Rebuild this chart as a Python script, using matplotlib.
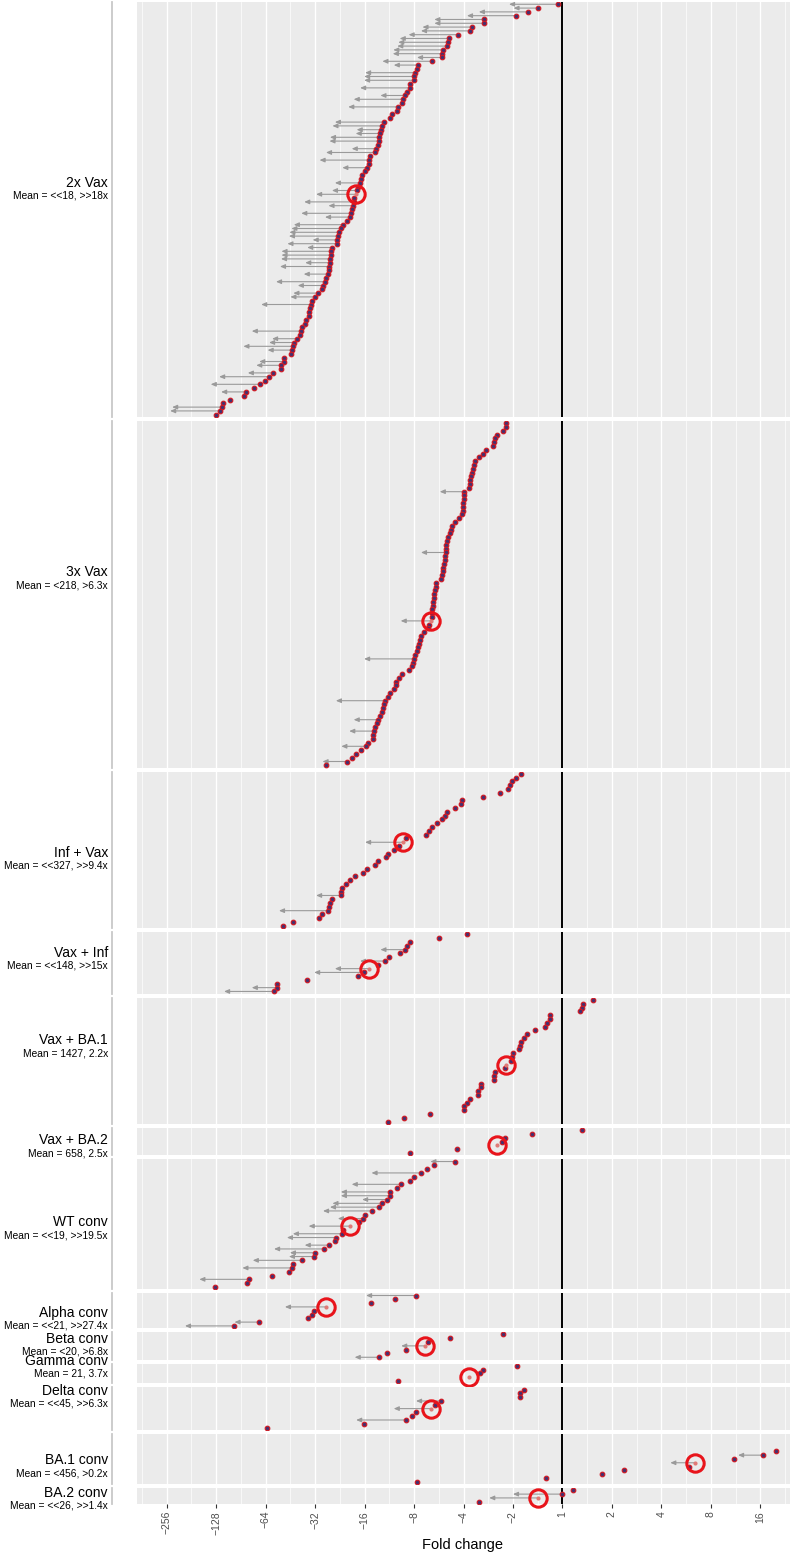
import numpy as np
import matplotlib.pyplot as plt
from matplotlib.lines import Line2D

plt.rcParams['font.family'] = ['Liberation Sans', 'DejaVu Sans']

# signed log2 fold change per sample, in plotted order (top to bottom), mean row not included
# censor codes: 0 = exact, 1 = "<" (half step arrow), 2 = "<<" (full step arrow)
vax2 = [-0.08, -0.49, -0.69, -0.93, -1.59, -1.59, -1.83, -1.86, -2.11, -2.29,
        -2.32, -2.34, -2.42, -2.43, -2.44, -2.64, -2.91, -2.93, -2.99, -3.01,
        -3.01, -3.08, -3.09, -3.15, -3.18, -3.22, -3.24, -3.33, -3.35, -3.44,
        -3.49, -3.60, -3.65, -3.66, -3.68, -3.70, -3.71, -3.72, -3.76, -3.78,
        -3.89, -3.91, -3.92, -3.95, -3.99, -4.06, -4.08, -4.10, -4.14, -4.16,
        -4.21, -4.22, -4.23, -4.26, -4.28, -4.30, -4.35, -4.43, -4.48,
        -4.52, -4.53, -4.55, -4.56, -4.66, -4.68, -4.68, -4.69, -4.70, -4.71,
        -4.72, -4.73, -4.77, -4.79, -4.85, -4.87, -4.94, -5.00, -5.07, -5.09,
        -5.10, -5.12, -5.13, -5.19, -5.20, -5.26, -5.28, -5.31, -5.37, -5.43,
        -5.45, -5.46, -5.49, -5.62, -5.63, -5.69, -5.69, -5.86, -5.94, -6.01,
        -6.11, -6.23, -6.40, -6.44, -6.73, -6.86, -6.89, -6.93, -7.01]
vax2_cens = [2, 1, 2, 2, 2, 2, 2, 2, 2, 2,
             2, 2, 2, 2, 1, 2, 1, 0, 2, 2,
             2, 0, 2, 0, 1, 2, 0, 2, 0, 0,
             0, 2, 2, 1, 1, 2, 2, 0, 1, 2,
             0, 2, 0, 1, 0, 0, 0, 1, 0, 1,
             0, 2, 1, 0, 2, 1, 0, 2, 2,
             2, 2, 1, 2, 1, 2, 2, 2, 1, 2,
             0, 1, 0, 2, 1, 0, 1, 1, 0, 2,
             0, 0, 0, 0, 0, 0, 2, 0, 1, 1,
             2, 1, 0, 0, 1, 1, 0, 1, 2, 0,
             2, 0, 1, 0, 0, 0, 2, 2, 0]

vax3 = [-1.14, -1.15, -1.21, -1.33, -1.37, -1.39, -1.40, -1.54, -1.60, -1.69,
        -1.76, -1.78, -1.81, -1.82, -1.84, -1.86, -1.86, -1.88, -1.98, -2.00,
        -2.00, -2.01, -2.01, -2.02, -2.03, -2.09, -2.18, -2.23, -2.26, -2.28,
        -2.32, -2.33, -2.35, -2.36, -2.36, -2.37, -2.38, -2.39, -2.41, -2.42,
        -2.44, -2.46, -2.55, -2.55, -2.57, -2.59, -2.59, -2.61, -2.61, -2.63,
        -2.63, -2.64, -2.69, -2.72, -2.80, -2.85, -2.88, -2.90, -2.92, -2.95,
        -2.98, -3.01, -3.03, -3.05, -3.11, -3.24, -3.30, -3.36, -3.37, -3.41,
        -3.49, -3.52, -3.58, -3.60, -3.62, -3.64, -3.68, -3.72, -3.75, -3.78,
        -3.81, -3.82, -3.83, -3.93, -3.97, -4.08, -4.18, -4.26, -4.35, -4.77]
vax3_cens = [0, 0, 0, 0, 0, 0, 0, 0, 0, 0,
             0, 0, 0, 0, 0, 0, 0, 0, 1, 0,
             0, 0, 0, 0, 0, 0, 0, 0, 0, 0,
             0, 0, 0, 0, 1, 0, 0, 0, 0, 0,
             0, 0, 0, 0, 0, 0, 0, 0, 0, 0,
             0, 0, 0, 0, 0, 0, 0, 0, 0, 0,
             0, 2, 0, 0, 0, 0, 0, 0, 0, 0,
             0, 0, 2, 0, 0, 0, 0, 1, 0, 0,
             1, 0, 0, 0, 1, 0, 0, 0, 1, 0]

inf_vax = [-0.83, -0.93, -1.01, -1.07, -1.10, -1.27, -1.60, -2.04, -2.05, -2.18,
           -2.34, -2.38, -2.43, -2.53, -2.63, -2.69, -2.76, -3.16, -3.31, -3.40,
           -3.52, -3.56, -3.72, -3.78, -3.95, -4.03, -4.20, -4.29, -4.37, -4.45,
           -4.48, -4.48, -4.66, -4.69, -4.72, -4.73, -4.87, -4.93, -5.44, -5.64]
inf_vax_cens = [0] * 31 + [1, 0, 0, 0, 2, 0, 0, 0, 0]

vax_inf = [-1.92, -2.49, -3.09, -3.14, -3.18, -3.28, -3.50, -3.59, -3.73,
           -4.02, -4.14, -5.17, -5.77, -5.78, -5.84]
vax_inf_cens = [0, 0, 0, 0, 1, 0, 0, 1, 0, 2, 0, 0, 0, 1, 2]

vax_ba1 = [0.61, 0.41, 0.39, 0.36, -0.25, -0.26, -0.32, -0.36, -0.55, -0.72,
           -0.78, -0.84, -0.85, -0.88, -1.00, -1.02, -1.03, -1.16, -1.37, -1.39,
           -1.39, -1.64, -1.65, -1.70, -1.71, -1.87, -1.93, -1.98, -1.99, -2.67,
           -3.20, -3.53]
vax_ba1_cens = [0] * 32

vax_ba2 = [0.39, -0.61, -1.16, -1.23, -2.14, -3.09]
vax_ba2_cens = [0] * 6

wt_conv = [-2.17, -2.59, -2.74, -2.86, -3.01, -3.09, -3.26, -3.34, -3.48, -3.48,
           -3.55, -3.65, -3.70, -3.84, -3.99, -4.04, -4.11, -4.43, -4.45, -4.57,
           -4.60, -4.71, -4.83, -5.01, -5.03, -5.26, -5.44, -5.47, -5.52, -5.87,
           -6.34, -6.37, -7.02]
wt_conv_cens = [1, 0, 0, 2, 0, 0, 2, 0, 2, 2, 1, 2, 2, 2, 0, 1, 0,
                0, 2, 2, 0, 1, 2, 1, 1, 2, 0, 2, 0, 0, 2, 0, 0]

alpha_conv = [-2.97, -3.39, -3.86, -5.03, -5.07, -5.14, -6.13, -6.63]
alpha_conv_cens = [2, 0, 0, 0, 0, 0, 1, 2]

beta_conv = [-1.20, -2.28, -2.71, -3.17, -3.55, -3.70]
beta_conv_cens = [0, 0, 0, 0, 0, 1]

gamma_conv = [-0.92, -1.60, -1.67, -3.32]
gamma_conv_cens = [0, 0, 0, 0]

delta_conv = [-0.77, -0.85, -0.85, -2.46, -2.58, -2.96, -3.04, -3.17, -4.01, -5.97]
delta_conv_cens = [0, 0, 0, 1, 0, 0, 0, 2, 0, 0]

# first four rows are off the right of the axis
ba1_conv = [np.nan, np.nan, np.nan, np.nan, 4.32, 4.05, 3.47, 2.55, 1.25, 0.79, -0.34, -2.93]
ba1_conv_cens = [0, 0, 0, 0, 0, 1, 0, 0, 0, 0, 0, 0]

ba2_conv = [0.22, 0.00, -1.69]
ba2_conv_cens = [0, 2, 0]

groups = ["2x Vax", "3x Vax", "Inf + Vax", "Vax + Inf", "Vax + BA.1", "Vax + BA.2",
          "WT conv", "Alpha conv", "Beta conv", "Gamma conv", "Delta conv",
          "BA.1 conv", "BA.2 conv"]
mean_text = ["Mean = <<18, >>18x", "Mean = <218, >6.3x", "Mean = <<327, >>9.4x",
             "Mean = <<148, >>15x", "Mean = 1427, 2.2x", "Mean = 658, 2.5x",
             "Mean = <<19, >>19.5x", "Mean = <<21, >>27.4x", "Mean = <20, >6.8x",
             "Mean = 21, 3.7x", "Mean = <<45, >>6.3x", "Mean = <456, >0.2x",
             "Mean = <<26, >>1.4x"]
mean_log2 = [-4.17, -2.65, -3.23, -3.91, -1.14, -1.32, -4.29, -4.78, -2.77, -1.89, -2.66, 2.67, -0.49]
mean_lo = [-4.98, -3.27, -3.99, -4.60, np.nan, np.nan, -5.13, -5.61, -3.26, np.nan, -3.41, 2.18, -1.48]
mean_row = [50, 52, 18, 9, 17, 4, 17, 3, 3, 3, 5, 7, 2]

values = [vax2, vax3, inf_vax, vax_inf, vax_ba1, vax_ba2, wt_conv, alpha_conv,
          beta_conv, gamma_conv, delta_conv, ba1_conv, ba2_conv]
censor = [vax2_cens, vax3_cens, inf_vax_cens, vax_inf_cens, vax_ba1_cens, vax_ba2_cens,
          wt_conv_cens, alpha_conv_cens, beta_conv_cens, gamma_conv_cens,
          delta_conv_cens, ba1_conv_cens, ba2_conv_cens]

# label positions (pixel rows of the group name)
label_y_px = [183, 572, 853, 953, 1040, 1140, 1222, 1313, 1339, 1361, 1391, 1460, 1493]

W, H = 790, 1557
fig = plt.figure(figsize=(W / 100, H / 100), dpi=100)
nrows = [len(v) + 1 for v in values]
avg_h = (1502 - 12 * 4) / 13
gs = fig.add_gridspec(len(groups), 1, height_ratios=[n + 0.2 for n in nrows],
                      hspace=4 / avg_h, left=137 / W, right=1.0,
                      top=1 - 2 / H, bottom=1 - 1504 / H)

arrow_kw = dict(arrowstyle="-|>,head_length=0.3,head_width=0.13", color="#9a9a9a",
                lw=0.8, shrinkA=0, shrinkB=0)
ticks = np.arange(-8, 5)
tick_labels = [("\u2212%d" % 2 ** (-t)) if t < 0 else "%d" % 2 ** t for t in ticks]

for i, name in enumerate(groups):
    ax = fig.add_subplot(gs[i])
    ax.set_facecolor("#EBEBEB")
    n = nrows[i]
    rows = [r for r in range(n) if r != mean_row[i]]
    vals = np.array(values[i], dtype=float)
    cens = np.array(censor[i])

    for v, c, r in zip(vals, cens, rows):
        if c > 0 and not np.isnan(v):
            ax.annotate("", xy=(v - 0.5 * c, r), xytext=(v, r), arrowprops=arrow_kw, zorder=3)
    if not np.isnan(mean_lo[i]):
        ax.annotate("", xy=(mean_lo[i], mean_row[i]), xytext=(mean_log2[i], mean_row[i]),
                    arrowprops=arrow_kw, zorder=3)

    ax.axvline(0, color="black", lw=1.4, zorder=2)
    ax.plot(vals, rows, "o", ls="none", ms=3.3, mfc="#46306e", mec="#d01a24", mew=0.85, zorder=4)
    ax.plot(mean_log2[i], mean_row[i], "o", ms=3.0, mfc="#e07a76", mec="none", zorder=5,
            clip_on=False)
    ax.plot(mean_log2[i], mean_row[i], "o", ms=12.5, mfc="none", mec="#e8141b", mew=2.2, zorder=6,
            clip_on=False)

    ax.set_xlim(-8.6, 4.6)
    ax.set_ylim(n - 1 + 0.6, -0.6)
    ax.set_xticks(ticks)
    ax.set_xticks(np.arange(-8.5, 4.6, 1.0), minor=True)
    ax.grid(True, which="major", axis="x", color="white", lw=1.0)
    ax.grid(True, which="minor", axis="x", color="white", lw=0.5)
    ax.set_axisbelow(True)
    ax.set_yticks([])
    for s in ax.spines.values():
        s.set_visible(False)
    if i == len(groups) - 1:
        ax.set_xticklabels(tick_labels, rotation=90, fontsize=7.5, color="#4d4d4d")
        ax.tick_params(axis="x", which="major", length=3, width=0.8, color="#333333", pad=2)
        ax.tick_params(axis="x", which="minor", length=0)
    else:
        ax.tick_params(axis="x", which="both", length=0, labelbottom=False)

    pos = ax.get_position()
    fig.add_artist(Line2D([112 / W, 112 / W], [pos.y0, pos.y1], color="#c8c8c8", lw=1.3))
    ly = label_y_px[i]
    fig.text(108 / W, 1 - ly / H, name, ha="right", va="center", fontsize=10)
    fig.text(108 / W, 1 - (ly + 13) / H, mean_text[i], ha="right", va="center", fontsize=7.4)

fig.text(463 / W, 1 - 1545 / H, "Fold change", ha="center", va="center", fontsize=10.5)

fig.savefig("out.png", dpi=100)
